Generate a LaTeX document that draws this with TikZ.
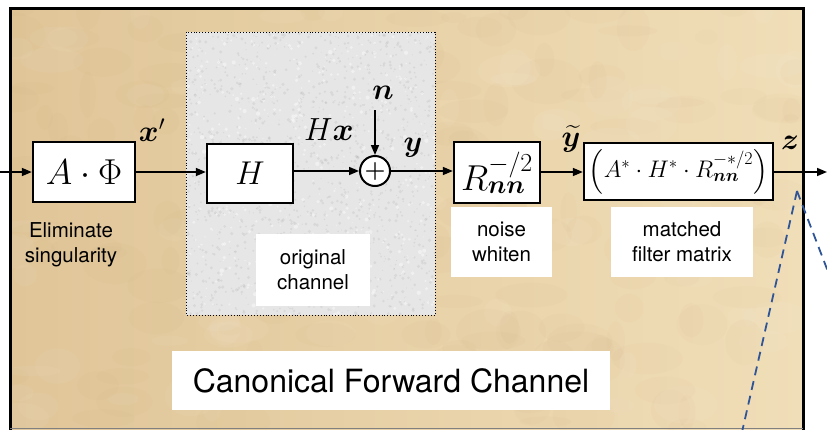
\RequirePackage{fix-cm}
\documentclass[tikz,border=0pt]{standalone}
\usepackage{amsmath}
\usepackage{bm}
\usepackage{fontspec}
\newfontfamily\hv{TeX Gyre Heros}
\usetikzlibrary{arrows.meta,calc}
\definecolor{parchA}{RGB}{224,197,152}
\definecolor{parchB}{RGB}{240,222,184}
\definecolor{blot}{RGB}{190,150,95}
\definecolor{chgray}{RGB}{230,230,230}
\definecolor{dblue}{RGB}{47,85,151}
\newcommand{\fsz}[2]{\text{\fontsize{#1}{#1}\selectfont$#2$}}
\tikzset{
  blk/.style={draw=black, line width=2.4pt, fill=white, inner sep=0pt, minimum height=60pt},
  sumnode/.style={circle, draw=black, line width=2pt, fill=white, minimum size=30pt, inner sep=0pt},
  conn/.style={line width=1.6pt, -{Triangle[length=10pt,width=8pt]}},
  sig/.style={font=\fontsize{30}{34}\selectfont, inner sep=0pt},
  lbl/.style={fill=white, align=center, font=\hv\fontsize{20.5}{25}\selectfont, inner sep=0pt},
}
\begin{document}
\begin{tikzpicture}[x=1pt,y=-1pt]
\useasboundingbox (0,0) rectangle (827,429);
\fill[white] (0,0) rectangle (827,429);
% parchment background
\begin{scope}
\clip (10,8) rectangle (803,429);
\shade[left color=parchA, right color=parchB] (10,8) rectangle (803,429);
\pgfmathsetseed{11}
\foreach \i in {1,...,160}{
  \pgfmathsetmacro\xx{10+793*rnd}
  \pgfmathsetmacro\yy{8+421*rnd}
  \pgfmathsetmacro\rx{8+30*rnd}
  \pgfmathsetmacro\ry{5+18*rnd}
  \fill[blot, opacity=0.035] (\xx,\yy) ellipse ({\rx} and {\ry});
}
\foreach \i in {1,...,80}{
  \pgfmathsetmacro\xx{10+793*rnd}
  \pgfmathsetmacro\yy{8+421*rnd}
  \pgfmathsetmacro\rx{8+25*rnd}
  \pgfmathsetmacro\ry{5+15*rnd}
  \fill[white, opacity=0.05] (\xx,\yy) ellipse ({\rx} and {\ry});
}
\end{scope}
% original channel region
\fill[chgray] (186,32) rectangle (435,315);
\begin{scope}
\clip (186,32) rectangle (435,315);
\pgfmathsetseed{5}
\foreach \i in {1,...,1400}{
  \pgfmathsetmacro\xx{186+249*rnd}
  \pgfmathsetmacro\yy{32+283*rnd}
  \pgfmathsetmacro\rr{0.5+1.3*rnd}
  \fill[gray, opacity=0.12] (\xx,\yy) circle (\rr);
}
\foreach \i in {1,...,500}{
  \pgfmathsetmacro\xx{186+249*rnd}
  \pgfmathsetmacro\yy{32+283*rnd}
  \pgfmathsetmacro\rr{0.6+1.6*rnd}
  \fill[white, opacity=0.4] (\xx,\yy) circle (\rr);
}
\end{scope}
\draw[black, line width=0.9pt, dotted] (186,32) rectangle (435,315);
% outer frame
\draw[black, line width=3pt] (10,432) -- (10,8) -- (803,8) -- (803,432);
\draw[gray, line width=1pt] (10,428.5) -- (803,428.5);
% white label boxes
\node[lbl, minimum width=114pt, minimum height=72pt] (orig) at (313,270) {original\\channel};
\node[lbl, minimum width=101pt, minimum height=70pt] (nw) at (501.5,242) {noise\\whiten};
\node[lbl, minimum width=142pt, minimum height=70pt] (mfl) at (682,242) {matched\\filter matrix};
\node[lbl, minimum width=438pt, minimum height=59pt, font=\hv\fontsize{32}{36}\selectfont] (can) at (391,380.5) {Canonical Forward Channel};
\node[align=center, font=\hv\fontsize{20.5}{25}\selectfont, inner sep=0pt] (elim) at (71,245) {Eliminate\\singularity};
% blocks
\node[blk, minimum width=102pt] (ap) at (84,172) {\fontsize{36}{40}\selectfont$A\cdot\Phi$};
\node[blk, minimum width=86pt, minimum height=59pt] (hb) at (250,173.5) {\fontsize{33}{38}\selectfont$H$};
\node[sumnode] (sum) at (375,171) {\fontsize{24}{30}\selectfont$\bm{+}$};
\node[blk, minimum width=86pt, minimum height=61pt] (rb) at (497,172.5) {\fontsize{36}{40}\selectfont$R^{\fsz{26}{-/2}}_{\fsz{26}{\bm{nn}}}$};
\node[blk, minimum width=189pt, minimum height=57pt] (mf) at (678.5,171.5) {\fontsize{24}{28}\selectfont$\Bigl(A^{*}\cdot H^{*}\cdot R^{\fsz{18}{{-}{*}/2}}_{\fsz{18}{\bm{nn}}}\Bigr)$};
% connectors
\coordinate (inp) at (0,172);
\coordinate (outp) at (827,172);
\coordinate (ntop) at (375,110);
\draw[conn] (inp) -- (ap.west |- inp);
\draw[conn] (ap.east |- inp) -- (hb.west |- inp);
\draw[conn] (hb.east |- sum) -- (sum.west);
\draw[conn] (ntop) -- (sum.north);
\draw[conn] (sum.east) -- (rb.west |- sum);
\draw[conn] (rb.east |- inp) -- (mf.west |- inp);
\draw[conn] (mf.east |- inp) -- (outp);
% signal labels
\node[sig] (xp) at (152,130) {$\bm{x}'$};
\node[sig, font=\fontsize{32}{36}\selectfont] (hx) at (329,130) {$H\bm{x}$};
\node[sig] (nl) at (383,93) {$\bm{n}$};
\node[sig] (yl) at (413,148) {$\bm{y}$};
\node[sig] (yt) at (571,139) {$\widetilde{\bm{y}}$};
\node[sig] (zl) at (790,143) {$\bm{z}$};
% dashed zoom lines
\coordinate (zs) at (797,191);
\coordinate (zleft) at (742,432);
\coordinate (zright) at (832,282);
\draw[dblue, line width=1.8pt, dash pattern=on 9pt off 6pt] (zs) -- (zleft);
\draw[dblue, line width=1.8pt, dash pattern=on 9pt off 6pt] (zs) -- (zright);
\end{tikzpicture}
\end{document}
